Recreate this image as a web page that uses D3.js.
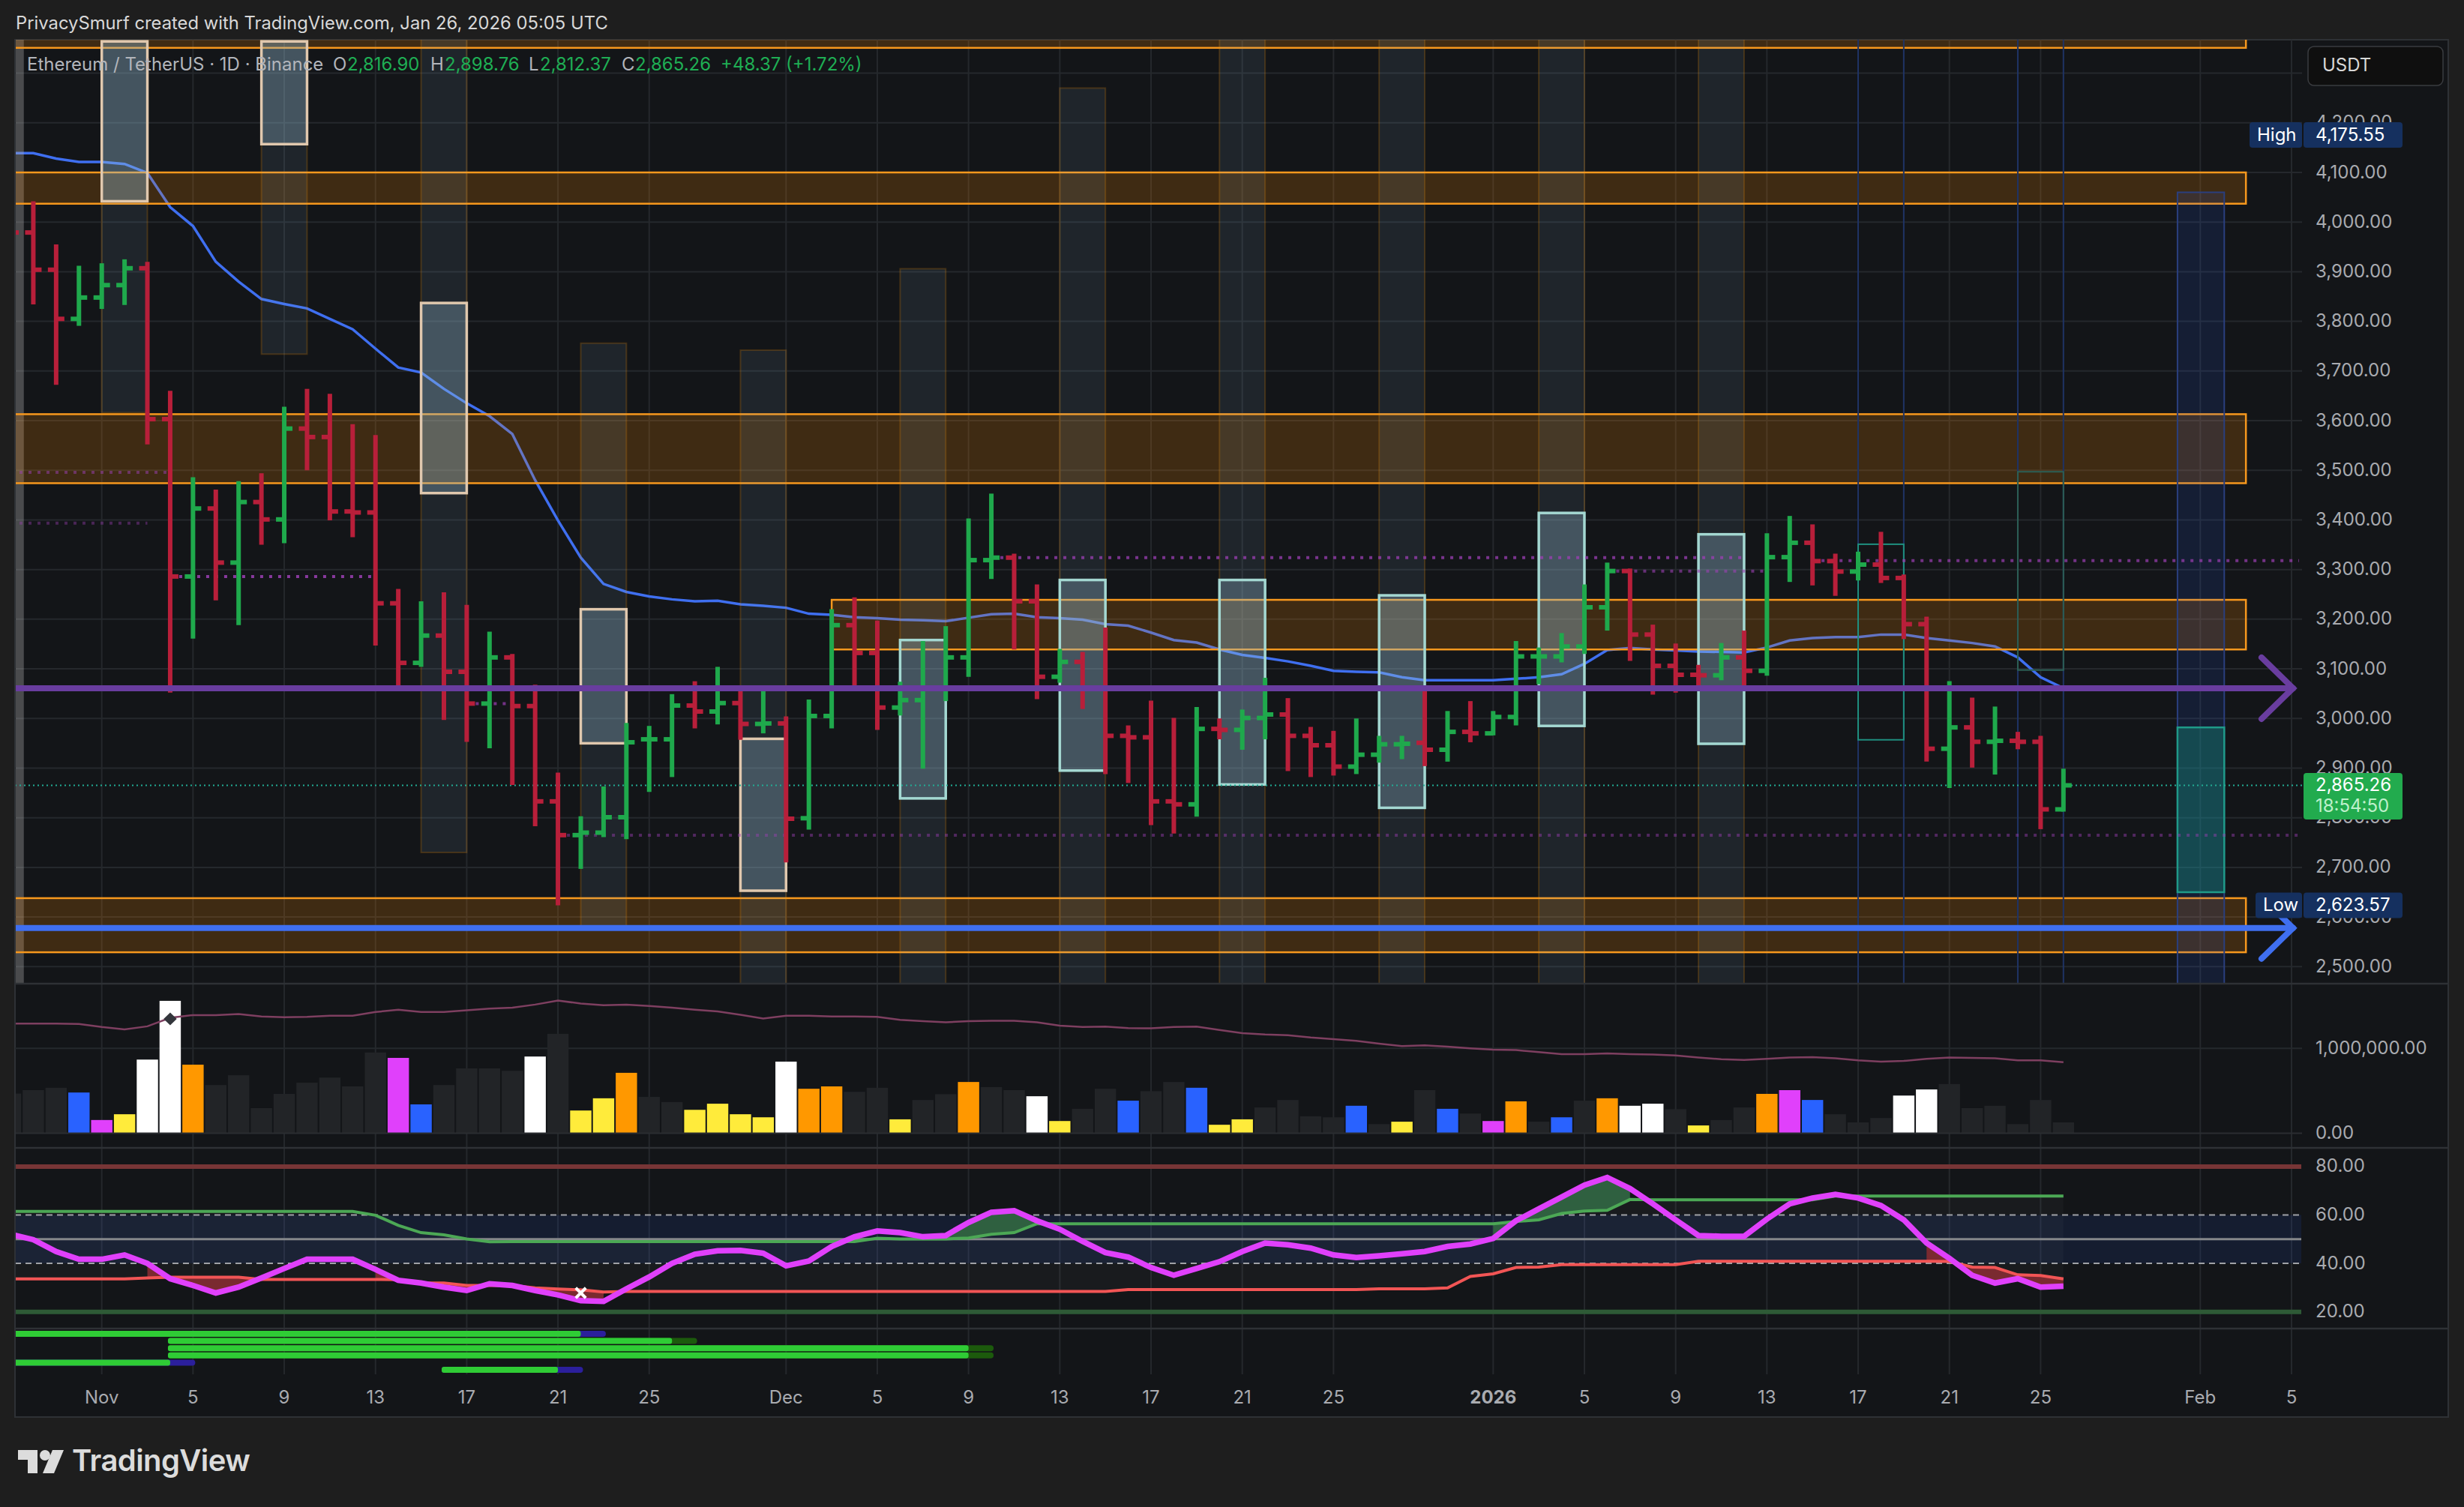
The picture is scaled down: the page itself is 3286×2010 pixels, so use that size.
<!DOCTYPE html>
<html>
<head>
<meta charset="utf-8">
<title>ETHUSDT 1D</title>
<script src="https://cdn.jsdelivr.net/npm/d3@7"></script>
<style>
  html, body { margin: 0; padding: 0; background: #1e1e1e; }
  svg { display: block; }
  text { font-family: Inter, "Noto Sans", sans-serif; }
</style>
</head>
<body>
<svg id="chart" width="3286" height="2010"></svg>
<script>
// daily bars, Oct 28 -> Jan 26
const opens = [4050,3979,3904,3805,
  3848,3873,3907,3603,3286,3423,3314,3436,3401,3584,3567,3417,3415,3232,3112,3167,3094,3030,3123,3025,2833,2765,2770,2801,2958,2958,3026,3014,3031,2989,
  2990,2799,3005,3188,3132,3022,3037,3060,3123,3319,3324,3236,3084,3114,3062,2965,2962,2833,2827,2979,2977,3001,3008,2965,2946,2903,2927,2948,2951,2937,2973,
  2970,3003,3125,3125,3145,3224,3297,3169,3106,3088,3087,3123,3096,3325,3354,3317,3296,3310,3283,3190,2939,2982,2953,2955,2953,2816.90];
const highs = [4100,4042,3955,3912,
  3917,3925,3920,3660,3486,3461,3478,3494,3628,3664,3654,3593,3571,3261,3236,3254,3229,3175,3130,3068,2891,2803,2863,2991,2985,3049,3075,3104,3057,3057,
  3004,3038,3220,3244,3197,3074,3156,3186,3403,3453,3332,3270,3140,3134,3183,2986,3036,3001,3023,3000,3018,3082,3041,2983,2975,3000,2965,2965,3061,3015,3035,
  3015,3156,3143,3172,3270,3314,3302,3189,3151,3108,3152,3177,3373,3408,3391,3332,3336,3376,3290,3205,3075,3042,3024,2973,2965,2898.76];
const lows = [3950,3834,3672,3791,
  3825,3833,3552,3052,3161,3238,3188,3350,3353,3500,3399,3365,3147,3064,3104,2997,2953,2940,2866,2783,2623.57,2697,2761,2757,2852,2882,2980,2988,2957,2970,
  2710,2776,2980,3061,2977,3006,2899,3035,3084,3281,3139,3039,3072,3019,2888,2870,2785,2768,2802,2958,2937,2958,2894,2882,2885,2888,2911,2918,2904,2913,2952,
  2966,2986,3069,3113,3130,3177,3116,3048,3052,3061,3077,3059,3086,3275,3268,3247,3278,3273,3160,2913,2860,2901,2887,2938,2777,2812.37];
const closes = [3979,3904,3805,3848,
  3873,3907,3603,3286,3423,3314,3436,3401,3584,3567,3417,3415,3232,3112,3167,3094,3030,3123,3025,2833,2765,2770,2801,2952,2958,3026,3014,3031,2989,2990,
  2798,3005,3188,3132,3022,3037,3060,3123,3319,3324,3236,3084,3114,3062,2965,2962,2833,2827,2979,2977,3001,3008,2965,2946,2903,2927,2948,2949,2937,2973,2970,
  3003,3125,3125,3145,3224,3297,3169,3106,3088,3087,3123,3096,3325,3354,3317,3296,3310,3283,3190,2939,2982,2953,2955,2953,2816.90,2865.26];
const maValues = [4139,4139,4128,4121,
  4121,4117,4099,4030,3992,3920,3880,3845,3835,3826,3805,3784,3745,3707,3697,3664,3635,3609,3573,3480,3399,3324,3271,3255,3246,3240,3236,3237,3230,3227,
  3223,3211,3209,3204,3202,3199,3198,3196,3203,3210,3211,3204,3202,3199,3190,3187,3173,3158,3153,3139,3128,3122,3115,3106,3096,3094,3093,3083,3077,3077,3077,
  3077,3080,3083,3089,3110,3138,3142,3139,3137,3135,3134,3133,3143,3157,3162,3164,3164,3169,3169,3162,3157,3152,3145,3123,3083,3061];

// volume in thousands, with the colour class of each bar
const volumes = [468,508,536,480,
  156,224,868,1560,808,568,684,296,464,596,656,552,952,888,340,568,764,764,736,904,1172,268,412,712,428,368,276,348,224,188,
  844,524,552,488,536,164,392,460,604,544,508,436,144,288,524,384,496,604,536,100,164,304,392,200,188,324,108,136,508,288,232,
  144,376,136,188,384,412,324,348,284,92,156,304,464,508,392,224,128,180,444,516,580,296,324,108,392,128];
const volumeKinds = "dddb" +
  "mywwoddddddddmbddddwdyyoddyyyy" +
  "wooddyddoddwyddbddbyyddddbdydbd" +
  "modbdowwdyddombdddwwdddddd";
const volumeMa = [1292,1292,1292,1288,
  1252,1224,1260,1360,1392,1392,1404,1376,1368,1372,1384,1384,1428,1456,1428,1428,1448,1468,1480,1516,1564,1528,1508,1516,1500,1480,1456,1436,1396,1352,
  1384,1384,1376,1376,1372,1336,1320,1308,1320,1324,1324,1308,1268,1252,1256,1240,1236,1252,1256,1216,1180,1164,1156,1128,1108,1088,1056,1028,1036,1020,1000,
  984,980,956,932,932,940,932,928,916,892,872,864,876,892,896,884,860,844,852,876,892,888,884,860,860,836];
const volumeColors = { d: "#222427", b: "#2962ff", m: "#e040fb", y: "#ffeb3b", w: "#ffffff", o: "#ff9800" };

// rsi pane
const rsiValues = [52.0,49.8,44.9,41.7,
  41.7,43.5,40.0,33.7,30.9,27.8,30.2,34.0,37.9,41.7,41.7,41.7,37.5,33.0,31.9,30.2,28.8,31.6,30.9,28.8,27.0,24.6,24.3,29.5,34.4,40.0,43.8,45.2,45.4,44.2,
  39.0,41.0,47.0,51.0,53.4,52.7,51.0,51.5,56.9,61.1,61.8,57.6,54.1,49.1,44.5,42.6,38.3,35.1,37.9,40.7,44.9,48.4,47.7,46.3,43.5,42.4,43.1,44.0,44.9,47.0,48.0,
  50.3,57.6,62.5,67.4,72.3,75.5,70.9,64.6,58.0,51.5,51.2,51.2,58.3,64.6,67.0,68.5,67.0,63.9,58.0,48.4,42.1,35.1,31.9,33.7,30.2,30.6];
const upperBand = [61.5,61.5,61.5,61.5,
  61.5,61.5,61.5,61.5,61.5,61.5,61.5,61.5,61.5,61.5,61.5,61.5,59.9,55.7,52.7,51.8,50.1,48.9,49,49,49,49,49,49,49,49,49,49,49,49,
  49,49,49,49,50.4,50.1,50.1,50.1,50.5,52,52.7,56.4,56.4,56.4,56.4,56.4,56.4,56.4,56.4,56.4,56.4,56.4,56.4,56.4,56.4,56.4,56.4,56.4,56.4,56.4,56.4,
  56.4,57.3,58,60.6,61.6,61.9,66.4,66.3,66.3,66.3,66.3,66.3,66.3,66.3,66.3,67.8,67.8,67.8,67.8,67.8,67.8,67.8,67.8,67.8,67.8,67.8];
const lowerBand = [33.6,33.6,33.6,33.6,
  33.6,33.6,34,34.3,34.3,34.3,34.3,33.4,33.4,33.4,33.4,33.4,33.4,33.3,32,31.9,30.9,30.9,30.9,29.9,29.4,29.1,28.2,28.4,28.4,28.4,28.4,28.4,28.4,28.4,
  28.4,28.4,28.4,28.4,28.4,28.4,28.4,28.4,28.4,28.4,28.4,28.4,28.4,28.4,28.4,29.2,29.2,29.2,29.2,29.2,29.2,29.2,29.2,29.2,29.2,29.2,29.5,29.5,29.5,29.9,34.6,
  35.7,38.3,38.5,39.5,39.5,39.5,39.5,39.5,39.5,40.9,40.9,40.9,40.9,40.9,40.9,40.9,40.9,40.9,40.9,40.9,40.8,38.5,38.3,35.3,35,33.6];
const rsiFills = [
  ["2025-11-03","2025-11-08","lower"], ["2025-11-13","2025-11-23","lower"], ["2026-01-20","2026-01-26","lower"],
  ["2025-12-08","2025-12-12","upper"], ["2026-01-01","2026-01-07","upper"]
];

// drawings on the price pane
const zoneTops = [4400,4100,3613,3239,2638];
const zoneBottoms = [4351,4037,3474,3139,2529];
const zoneStarts = ["2025-10-20","2025-10-20","2025-10-20","2025-12-03","2025-10-20"];
const columnStarts = ["2025-11-01","2025-11-08","2025-11-15","2025-11-22","2025-11-29","2025-12-06","2025-12-13","2025-12-20","2025-12-27","2026-01-03","2026-01-10"];
const columnTops = [4400,4400,4400,3756,3742,3906,4270,4400,4400,4400,4400];
const columnBottoms = [3616,3734,2730,2580,2440,2440,2440,2440,2440,2440,2440];
const boxTops = [4364,4364,3837,3220,2959,3158,3279,3279,3248,3414,3371];
const boxBottoms = [4042,4157,3454,2950,2653,2839,2895,2867,2820,2985,2949];
const boxEdges = ["#e0c8ae","#e0c8ae","#e0c8ae","#e0c8ae","#e0c8ae","#a4d8d2","#a4d8d2","#a4d8d2","#a4d8d2","#a4d8d2","#a4d8d2"];
const dottedPrices = [3496,3393.5,3286,3030,2764.6,3324,3297,3318];
const dottedStarts = ["2025-10-28","2025-10-28","2025-11-04","2025-11-17","2025-11-21","2025-12-10","2026-01-06","2026-01-15"];
const dottedEnds = ["2025-11-04","2025-11-03","2025-11-13","2025-11-19","2026-02-05","2026-01-12","2026-01-13","2026-02-05"];
const dottedAlpha = [0.5,0.4,0.85,0.7,0.45,0.75,0.6,0.7];
const blueThin = ["2026-01-17","2026-01-19","2026-01-24","2026-01-26"];
const thinBoxStarts = ["2026-01-17","2026-01-24"];
const thinBoxTops = [3351,3497];
const thinBoxBottoms = [2957,3097.5];

// timeline rows at the bottom
const rowStarts = ["2025-10-20","2025-11-04","2025-11-04","2025-11-04","2025-10-20","2025-11-16"];
const rowMids = ["2025-11-22","2025-11-26","2025-12-09","2025-12-09","2025-11-04","2025-11-21"];
const rowEnds = ["2025-11-23","2025-11-27","2025-12-10","2025-12-10","2025-11-05","2025-11-22"];
const rowTails = ["#2b1f9c","#1c5a0c","#1c5a0c","#1c5a0c","#2b1f9c","#2b1f9c"];

const timeTicks = ["2025-11-01","2025-11-05","2025-11-09","2025-11-13","2025-11-17","2025-11-21","2025-11-25","2025-12-01","2025-12-05","2025-12-09","2025-12-13","2025-12-17","2025-12-21","2025-12-25","2026-01-01","2026-01-05","2026-01-09","2026-01-13","2026-01-17","2026-01-21","2026-01-25","2026-02-01","2026-02-05"];
const timeLabels = ["Nov","5","9","13","17","21","25","Dec","5","9","13","17","21","25","2026","5","9","13","17","21","25","Feb","5"];
const priceTicks = d3.range(2500, 4300, 100);
const rsiTicks = [80, 60, 40, 20];
const legendParts = [["Ethereum / TetherUS · 1D · Binance",36,"#b2b5bb"],["O",444,"#b2b5bb"],["2,816.90",463,"#1fae54"],["H",574,"#b2b5bb"],["2,898.76",593,"#1fae54"],["L",705,"#b2b5bb"],["2,812.37",720,"#1fae54"],["C",829,"#b2b5bb"],["2,865.26",847,"#1fae54"],["+48.37 (+1.72%)",961,"#1fae54"]];

const plotLeft = 20, plotRight = 3265, plotTop = 53, gridRight = 3070;
const mainBottom = 1312, volBottom = 1531, rsiBottom = 1772, plotBottom = 1890;
const GREEN = "#1fa94c", RED = "#b81f3a", GREY = "#a9abb0";

const day = s => new Date(s + "T00:00:00Z");
const dates = d3.utcDay.range(day("2025-10-28"), day("2026-01-27"));
const x = d3.scaleUtc().domain([day("2025-11-01"), day("2026-02-05")]).range([135.7, 3056]);
const yPrice = d3.scaleLinear().domain([4100, 2500]).range([230, 1289.3]);
const yVol = d3.scaleLinear().domain([0, 1000]).range([1511.5, 1398.3]);
const yRsi = d3.scaleLinear().domain([80, 20]).range([1555.9, 1749.7]);
const xDay = i => x(dates[i]);
const dayWidth = x(day("2025-11-02")) - x(day("2025-11-01"));

const svg = d3.select("#chart");
svg.append("rect").attr("width", 3286).attr("height", 2010).attr("fill", "#1e1e1e");
svg.append("rect").attr("x", plotLeft).attr("y", plotTop).attr("width", plotRight - plotLeft).attr("height", plotBottom - plotTop)
  .attr("fill", "#131518").attr("stroke", "#2e3135").attr("stroke-width", 2);

const defs = svg.append("defs");
defs.append("clipPath").attr("id", "mainClip").append("rect").attr("x", plotLeft + 1).attr("y", plotTop).attr("width", plotRight - plotLeft).attr("height", mainBottom - plotTop);
defs.append("clipPath").attr("id", "lowClip").append("rect").attr("x", plotLeft + 1).attr("y", mainBottom).attr("width", plotRight - plotLeft).attr("height", plotBottom - mainBottom);

// grid
const gridG = svg.append("g").attr("stroke", "#25282c").attr("stroke-width", 2);
gridG.selectAll("line.v").data(timeTicks).enter().append("line")
  .attr("x1", d => x(day(d))).attr("x2", d => x(day(d))).attr("y1", plotTop).attr("y2", 1833);
gridG.selectAll("line.h").data(d3.range(2500, 4400, 100)).enter().append("line")
  .attr("x1", plotLeft).attr("x2", gridRight).attr("y1", d => yPrice(d)).attr("y2", d => yPrice(d));
gridG.append("line").attr("x1", plotLeft).attr("x2", gridRight).attr("y1", yVol(1000)).attr("y2", yVol(1000));

// price pane
const main = svg.append("g").attr("clip-path", "url(#mainClip)");

const maLine = d3.line().x((d, i) => xDay(i)).y(d => yPrice(d));
main.append("path").datum(maValues).attr("d", maLine).attr("fill", "none").attr("stroke", "#3f6ff0").attr("stroke-width", 3.5);

// odd band cut off at the left edge
main.append("rect").attr("x", plotLeft).attr("y", plotTop).attr("width", x(new Date(Date.UTC(2025, 9, 28, 14))) - plotLeft).attr("height", mainBottom - plotTop)
  .attr("fill", "rgba(178,178,178,0.35)");

main.selectAll("rect.zone").data(zoneTops).enter().append("rect")
  .attr("x", (d, i) => x(day(zoneStarts[i])))
  .attr("width", (d, i) => x(day("2026-02-03")) - x(day(zoneStarts[i])))
  .attr("y", d => yPrice(d))
  .attr("height", (d, i) => yPrice(zoneBottoms[i]) - yPrice(d))
  .attr("fill", "rgba(255,140,0,0.19)").attr("stroke", "#f7981d").attr("stroke-width", 2.5);

main.selectAll("rect.col").data(columnStarts).enter().append("rect")
  .attr("x", d => x(day(d))).attr("width", dayWidth * 2)
  .attr("y", (d, i) => yPrice(columnTops[i]))
  .attr("height", (d, i) => yPrice(columnBottoms[i]) - yPrice(columnTops[i]))
  .attr("fill", "rgba(140,190,220,0.1)").attr("stroke", "rgba(255,152,0,0.2)").attr("stroke-width", 2);

main.selectAll("rect.box").data(columnStarts).enter().append("rect")
  .attr("x", d => x(day(d))).attr("width", dayWidth * 2)
  .attr("y", (d, i) => yPrice(boxTops[i]))
  .attr("height", (d, i) => yPrice(boxBottoms[i]) - yPrice(boxTops[i]))
  .attr("fill", "rgba(155,195,215,0.3)").attr("stroke", (d, i) => boxEdges[i]).attr("stroke-width", 3.5);

// thin blue verticals and the teal outlines between them
main.selectAll("line.thin").data(blueThin).enter().append("line")
  .attr("x1", d => x(day(d))).attr("x2", d => x(day(d))).attr("y1", plotTop).attr("y2", mainBottom)
  .attr("stroke", "#1f3364").attr("stroke-width", 2);
main.selectAll("rect.thin").data(thinBoxStarts).enter().append("rect")
  .attr("x", d => x(day(d))).attr("width", (d, i) => dayWidth * 2)
  .attr("y", (d, i) => yPrice(thinBoxTops[i]))
  .attr("height", (d, i) => yPrice(thinBoxBottoms[i]) - yPrice(thinBoxTops[i]))
  .attr("fill", "none").attr("stroke", (d, i) => i ? "#2c5f55" : "#1f8f7f").attr("stroke-width", 2);

// projection band
main.append("rect").attr("x", x(day("2026-01-31"))).attr("width", dayWidth * 2.05)
  .attr("y", yPrice(4060)).attr("height", mainBottom - yPrice(4060))
  .attr("fill", "rgba(41,98,255,0.12)").attr("stroke", "#2a3f7e").attr("stroke-width", 2);
main.append("rect").attr("x", x(day("2026-01-31"))).attr("width", dayWidth * 2.05)
  .attr("y", yPrice(2982)).attr("height", yPrice(2650) - yPrice(2982))
  .attr("fill", "rgba(20,160,140,0.33)").attr("stroke", "#1f9a88").attr("stroke-width", 2.5);

// dotted levels
main.selectAll("line.level").data(dottedPrices).enter().append("line")
  .attr("x1", (d, i) => x(day(dottedStarts[i]))).attr("x2", (d, i) => x(day(dottedEnds[i])) + (dottedEnds[i] === "2026-02-05" ? 10 : 0))
  .attr("y1", d => yPrice(d)).attr("y2", d => yPrice(d))
  .attr("stroke", "#9c3fb4").attr("stroke-opacity", (d, i) => dottedAlpha[i])
  .attr("stroke-width", 4).attr("stroke-dasharray", "4 8");

// last price line
main.append("line").attr("x1", plotLeft).attr("x2", gridRight).attr("y1", yPrice(2865.26)).attr("y2", yPrice(2865.26))
  .attr("stroke", "#22ab94").attr("stroke-width", 2).attr("stroke-dasharray", "2 4");

// ohlc bars
const bars = main.selectAll("g.bar").data(dates).enter().append("g")
  .attr("stroke", (d, i) => closes[i] >= opens[i] ? GREEN : RED).attr("stroke-width", 6);
bars.append("line").attr("x1", (d, i) => xDay(i)).attr("x2", (d, i) => xDay(i))
  .attr("y1", (d, i) => yPrice(highs[i])).attr("y2", (d, i) => yPrice(lows[i]));
bars.append("line").attr("x1", (d, i) => xDay(i) - 11).attr("x2", (d, i) => xDay(i))
  .attr("y1", (d, i) => yPrice(opens[i])).attr("y2", (d, i) => yPrice(opens[i]));
bars.append("line").attr("x1", (d, i) => xDay(i)).attr("x2", (d, i) => xDay(i) + 11)
  .attr("y1", (d, i) => yPrice(closes[i])).attr("y2", (d, i) => yPrice(closes[i]));

// long arrows
function arrow(price, color) {
  const tip = x(day("2026-02-05")) + 2, y = yPrice(price);
  const g = main.append("g").attr("fill", "none").attr("stroke", color).attr("stroke-width", 8).attr("stroke-linecap", "round");
  g.append("line").attr("x1", plotLeft).attr("x2", tip).attr("y1", y).attr("y2", y);
  g.append("path").attr("d", `M${tip - 42},${y - 41}L${tip},${y}L${tip - 42},${y + 41}`).attr("stroke-linejoin", "miter");
}
arrow(3061, "#693d9f");
arrow(2578, "#3f6ff0");

// legend
const legend = svg.append("g").attr("font-size", 24);
legend.selectAll("text").data(legendParts).enter().append("text")
  .text(d => d[0]).attr("x", d => d[1]).attr("y", 87).attr("fill", d => d[2]).attr("dominant-baseline", "middle");

// volume pane
const low = svg.append("g").attr("clip-path", "url(#lowClip)");
low.selectAll("rect.vol").data(volumes).enter().append("rect")
  .attr("x", (d, i) => xDay(i) - dayWidth / 2 + 1)
  .attr("width", dayWidth - 2)
  .attr("y", d => yVol(d))
  .attr("height", d => yVol(0) - yVol(d))
  .attr("fill", (d, i) => volumeColors[volumeKinds[i]]);
low.append("line").attr("x1", plotLeft).attr("x2", gridRight).attr("y1", yVol(0)).attr("y2", yVol(0)).attr("stroke", "#2a2d31").attr("stroke-width", 2);
low.append("path").datum(volumeMa).attr("fill", "none").attr("stroke", "#7e3f60").attr("stroke-width", 2.5)
  .attr("d", d3.line().x((d, i) => xDay(i)).y(d => yVol(d)));
low.append("path").attr("d", d3.symbol(d3.symbolDiamond, 170)()).attr("transform", `translate(${x(day("2025-11-04"))},1359) scale(1.25,0.7)`).attr("fill", "#33363c");

// rsi pane
const rsiRight = gridRight - 1;
low.append("rect").attr("x", plotLeft).attr("width", rsiRight - plotLeft).attr("y", yRsi(60)).attr("height", yRsi(40) - yRsi(60)).attr("fill", "rgba(33,80,200,0.14)");
low.append("path").datum(dates).attr("fill", "rgba(255,255,255,0.028)")
  .attr("d", d3.area().x(d => x(d)).y0((d, i) => yRsi(lowerBand[i])).y1((d, i) => yRsi(upperBand[i])));
low.append("line").attr("x1", plotLeft).attr("x2", rsiRight).attr("y1", yRsi(80)).attr("y2", yRsi(80)).attr("stroke", "#773536").attr("stroke-width", 6);
low.append("line").attr("x1", plotLeft).attr("x2", rsiRight).attr("y1", yRsi(20)).attr("y2", yRsi(20)).attr("stroke", "#2e5a36").attr("stroke-width", 6);
low.append("line").attr("x1", plotLeft).attr("x2", rsiRight).attr("y1", yRsi(50)).attr("y2", yRsi(50)).attr("stroke", "#85878a").attr("stroke-width", 3);
[60, 40].forEach(v => low.append("line").attr("x1", plotLeft).attr("x2", rsiRight).attr("y1", yRsi(v)).attr("y2", yRsi(v))
  .attr("stroke", "#a0a2a6").attr("stroke-width", 2).attr("stroke-dasharray", "8 6"));

const bandOf = { upper: upperBand, lower: lowerBand };
rsiFills.forEach(([from, to, side]) => {
  const idx = d3.range(d3.bisectLeft(dates, day(from)), d3.bisectLeft(dates, day(to)) + 1);
  low.append("path").datum(idx)
    .attr("fill", side === "upper" ? "#2f6040" : "#7a2a30")
    .attr("d", d3.area().x(i => xDay(i)).y0(i => yRsi(rsiValues[i])).y1(i => yRsi(bandOf[side][i])));
});
const rsiLine = d3.line().x((d, i) => xDay(i)).y(d => yRsi(d));
low.append("path").datum(upperBand).attr("d", rsiLine).attr("fill", "none").attr("stroke", "#4ca855").attr("stroke-width", 4);
low.append("path").datum(lowerBand).attr("d", rsiLine).attr("fill", "none").attr("stroke", "#f25555").attr("stroke-width", 4);
low.append("path").datum(rsiValues).attr("d", rsiLine).attr("fill", "none").attr("stroke", "#e040fb").attr("stroke-width", 7.5);
low.append("path").attr("d", d3.symbol(d3.symbolTimes, 120)()).attr("transform", `translate(${x(day("2025-11-22"))},${yRsi(27.8)})`)
  .attr("fill", "none").attr("stroke", "#fff").attr("stroke-width", 4);

// pane separators
svg.selectAll("line.sep").data([mainBottom, volBottom, rsiBottom]).enter().append("line")
  .attr("x1", plotLeft).attr("x2", plotRight).attr("y1", d => d).attr("y2", d => d).attr("stroke", "#2e3135").attr("stroke-width", 2.5);

// timeline rows
const rowY = d3.scalePoint().domain(d3.range(6)).range([1779, 1827]);
rowStarts.forEach((s, i) => {
  const x0 = x(day(s)), xm = x(day(rowMids[i])), x1 = x(day(rowEnds[i]));
  low.append("rect").attr("x", x0 - 3).attr("width", x1 - x0 + 6).attr("y", rowY(i) - 4).attr("height", 8).attr("rx", 4).attr("fill", rowTails[i]);
  low.append("rect").attr("x", x0 - 3).attr("width", xm - x0 + 3).attr("y", rowY(i) - 4).attr("height", 8).attr("rx", 3).attr("fill", "#2fcc35");
});

// time axis
const axisTime = svg.append("g").attr("font-size", 24).attr("fill", GREY).attr("text-anchor", "middle");
axisTime.selectAll("text").data(timeTicks).enter().append("text")
  .text((d, i) => timeLabels[i]).attr("x", d => x(day(d))).attr("y", 1865).attr("dominant-baseline", "middle")
  .attr("font-weight", (d, i) => timeLabels[i] === "2026" ? 700 : 400);

// value axes
const fmt = d3.format(",.2f");
const axisG = svg.append("g").attr("font-size", 24).attr("fill", GREY);
const labelX = 3088;
axisG.selectAll("text.p").data(priceTicks).enter().append("text").text(d => fmt(d))
  .attr("x", labelX).attr("y", d => yPrice(d) + 1).attr("dominant-baseline", "middle");
axisG.selectAll("text.v").data([1000, 0]).enter().append("text").text(d => fmt(d * 1000))
  .attr("x", labelX).attr("y", d => yVol(d) + 1).attr("dominant-baseline", "middle");
axisG.selectAll("text.r").data(rsiTicks).enter().append("text").text(d => fmt(d))
  .attr("x", labelX).attr("y", d => yRsi(d) + 1).attr("dominant-baseline", "middle");

// price tags
function tag(price, name, value, xStart) {
  const g = svg.append("g"), cy = yPrice(price);
  g.append("rect").attr("x", xStart).attr("width", 3070 - xStart).attr("y", cy - 17).attr("height", 34).attr("rx", 4).attr("fill", "#15305f");
  g.append("rect").attr("x", 3072).attr("width", 132).attr("y", cy - 17).attr("height", 34).attr("rx", 4).attr("fill", "#15305f");
  g.append("text").text(name).attr("x", xStart + 10).attr("y", cy + 1).attr("font-size", 24).attr("fill", "#fff").attr("dominant-baseline", "middle");
  g.append("text").text(value).attr("x", labelX).attr("y", cy + 1).attr("font-size", 24).attr("fill", "#fff").attr("dominant-baseline", "middle");
}
tag(4175.55, "High", "4,175.55", 3000);
tag(2623.57, "Low", "2,623.57", 3008);

const last = svg.append("g");
last.append("rect").attr("x", 3072).attr("width", 132).attr("y", yPrice(2865.26) - 16.5).attr("height", 62).attr("rx", 4).attr("fill", "#22ab4e");
last.append("text").text("2,865.26").attr("x", labelX).attr("y", yPrice(2865.26) + 1).attr("font-size", 24).attr("fill", "#fff").attr("dominant-baseline", "middle");
last.append("text").text("18:54:50").attr("x", labelX).attr("y", yPrice(2865.26) + 29).attr("font-size", 24).attr("fill", "#bdf0cb").attr("dominant-baseline", "middle");

// currency box
svg.append("rect").attr("x", 3078).attr("y", 62).attr("width", 180).attr("height", 52).attr("rx", 8).attr("fill", "#0f0f0f").attr("stroke", "#3a3c40").attr("stroke-width", 1.5);
svg.append("text").text("USDT").attr("x", 3097).attr("y", 88).attr("font-size", 24).attr("fill", "#d8d8d8").attr("dominant-baseline", "middle");

// header and footer
svg.append("text").text("PrivacySmurf created with TradingView.com, Jan 26, 2026 05:05 UTC")
  .attr("x", 21).attr("y", 32).attr("font-size", 23.8).attr("fill", "#d8d8d8").attr("dominant-baseline", "middle");
const logo = svg.append("g").attr("fill", "#dcdcdc");
logo.append("path").attr("d", "M24,1934H50V1965H37V1947H24Z");
logo.append("circle").attr("cx", 60).attr("cy", 1941).attr("r", 7);
logo.append("path").attr("d", "M70,1934H85L72,1965H57Z");
svg.append("text").text("TradingView").attr("x", 96).attr("y", 1951).attr("font-size", 40).attr("font-weight", 600).attr("letter-spacing", -0.6)
  .attr("fill", "#dcdcdc").attr("dominant-baseline", "middle");
</script>
</body>
</html>
